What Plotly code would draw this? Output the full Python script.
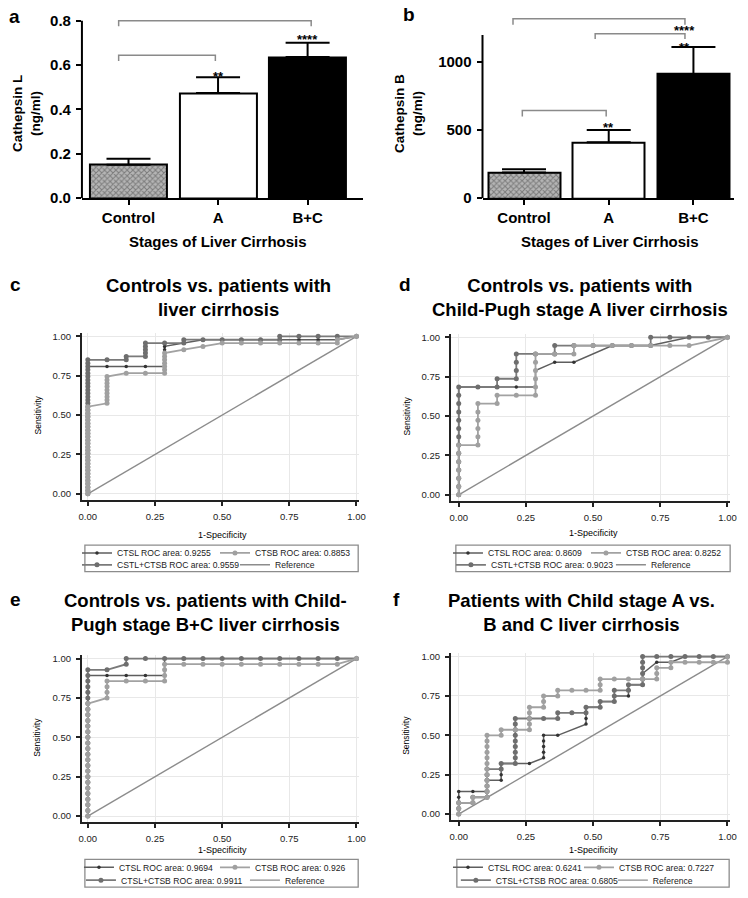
import plotly.graph_objects as go

W, H = 748, 898
FONT = "Liberation Sans, Arial, sans-serif"

# ---------------- panels a / b : bar charts ----------------
GROUPS = ["Control", "A", "B+C"]
CTSL_MEAN = [0.151, 0.474, 0.636]      # Cathepsin L (ng/ml)
CTSL_SEM = [0.027, 0.071, 0.065]
CTSB_MEAN = [188, 411, 913]            # Cathepsin B (ng/ml)
CTSB_SEM = [24, 91, 198]

# ---------------- panels c-f : ROC curves ----------------
# each curve: one list per false-positive count (0..n_neg), holding the
# true-positive counts reached at that false-positive count
C_N_NEG, C_N_POS = 14, 47
C_CTSL = [[0, 1, 2, 3, 4, 5, 6, 7, 8, 9, 10, 11, 12, 13, 14, 15, 16, 17, 18, 19, 20, 21, 22, 23, 24, 25, 26, 27, 28, 29, 30, 31, 32, 33, 34, 35, 36, 37, 38],
          [38], [38], [38], [38, 39, 40, 41, 42, 43, 44], [45], [46], [46], [46], [46], [46], [46], [46], [46], [47]]
C_CTSB = [[0, 1, 2, 3, 4, 5, 6, 7, 8, 9, 10, 11, 12, 13, 14, 15, 16, 17, 18, 19, 20, 21, 22, 23, 24, 25, 26],
          [27, 28, 29, 30, 31, 32, 33, 34, 35], [36], [36], [36, 37, 38, 39, 40, 41, 42], [43], [44], [45], [45], [45],
          [45], [45], [45], [45, 46], [47]]
C_COMBO = [[0, 1, 2, 3, 4, 5, 6, 7, 8, 9, 10, 11, 12, 13, 14, 15, 16, 17, 18, 19, 20, 21, 22, 23, 24, 25, 26, 27, 28, 29, 30, 31, 32, 33, 34, 35, 36, 37, 38, 39, 40],
           [40], [40, 41], [41, 42, 43, 44, 45], [45], [45, 46], [46], [46], [46], [46], [46, 47], [47], [47], [47], [47]]
C_LABELS = ["CTSL ROC area: 0.9255", "CTSB ROC area: 0.8853", "CSTL+CTSB ROC area: 0.9559", "Reference"]

D_N_NEG, D_N_POS = 14, 19
D_CTSL = [[0, 1, 2, 3, 4, 5, 6, 7, 8, 9, 10, 11, 12, 13], [13], [13], [13], [13, 14, 15], [16], [16], [], [18], [18], [18], [],
          [19], [19], [19]]
D_CTSB = [[0, 1, 2, 3, 4, 5, 6], [6, 7, 8, 9, 10, 11], [11, 12], [12], [12, 13, 14, 15, 16, 17], [17], [17, 18], [18], [18],
          [18], [18], [18], [18], [], [19]]
D_COMBO = [[0, 1, 2, 3, 4, 5, 6, 7, 8, 9, 10, 11, 12, 13], [13], [13, 14], [14, 15, 16, 17], [17], [17, 18], [18], [18], [18],
           [18], [18, 19], [19], [19], [19], [19]]
D_LABELS = ["CTSL ROC area: 0.8609", "CTSB ROC area: 0.8252", "CSTL+CTSB ROC area: 0.9023", "Reference"]

E_N_NEG, E_N_POS = 14, 28
E_CTSL = [[0, 1, 2, 3, 4, 5, 6, 7, 8, 9, 10, 11, 12, 13, 14, 15, 16, 17, 18, 19, 20, 21, 22, 23, 24, 25], [25], [25], [25],
          [25, 26, 27, 28], [28], [28], [28], [28], [28], [28], [28], [28], [28], [28]]
E_CTSB = [[0, 1, 2, 3, 4, 5, 6, 7, 8, 9, 10, 11, 12, 13, 14, 15, 16, 17, 18, 19, 20], [21, 22, 23, 24], [24], [24],
          [24, 25, 26, 27], [27], [27], [27], [27], [27], [27], [27], [27], [27], [28]]
E_COMBO = [[0, 1, 2, 3, 4, 5, 6, 7, 8, 9, 10, 11, 12, 13, 14, 15, 16, 17, 18, 19, 20, 21, 22, 23, 24, 25, 26], [26], [27, 28],
           [28], [28], [28], [28], [28], [28], [28], [28], [28], [28], [28], [28]]
E_LABELS = ["CTSL ROC area: 0.9694", "CTSB ROC area: 0.926", "CTSL+CTSB ROC area: 0.9911", "Reference"]

F_N_NEG, F_N_POS = 19, 28
F_CTSL = [[0, 1, 2, 3, 4], [4], [4, 5, 6], [6, 7, 8, 9], [9], [9], [10, 11, 12, 13, 14], [14], [], [16, 17, 18, 19],
          [19, 20], [20, 21], [21, 22, 23], [23, 24, 25], [27], [27], [28], [28], [28], [28]]
F_CTSB = [[0, 1, 2], [2, 3], [3, 4, 5, 6, 7, 8, 9, 10, 11, 12, 13, 14], [14, 15], [15], [15, 16, 17, 18, 19], [19, 20, 21],
          [21, 22], [22], [22], [22, 23, 24], [24], [24], [24], [24, 25, 26], [26, 27], [27], [27], [27], [27, 28]]
F_COMBO = [[0, 1, 2], [2, 3], [3, 4, 5, 6, 7, 8], [8, 9], [9, 10, 11, 12, 13, 14, 15, 16, 17], [17], [17], [17, 18], [18],
           [18, 19], [19, 20], [20, 21, 22], [22, 23], [23, 24, 25, 26, 27, 28], [28], [28], [28], [28], [28], [28]]
F_LABELS = ["CTSL ROC area: 0.6241", "CTSB ROC area: 0.7227", "CTSL+CTSB ROC area: 0.6805", "Reference"]

ROC_TICKS = [0, 0.25, 0.5, 0.75, 1]


def px_x(x):
    return x / W


def px_y(y):
    return 1 - y / H


def roc_xy(cols, n_neg, n_pos):
    xs, ys = [], []
    for fp, col in enumerate(cols):
        for tp in col:
            xs.append(fp / n_neg)
            ys.append(tp / n_pos)
    return xs, ys


fig = go.Figure()
annotations = []
shapes = []


def text(x, y, s, size, bold=False, angle=0, xanchor="center"):
    annotations.append(dict(x=px_x(x), y=px_y(y), xref="paper", yref="paper", text=s, showarrow=False,
                            textangle=angle, xanchor=xanchor, yanchor="middle",
                            font=dict(family=FONT, size=size, color="black",
                                      weight="bold" if bold else "normal")))


# ---------- bar panels ----------
def bar_panel(xa, ya, means, sems, width, ytop, brackets, stars):
    fig.add_trace(go.Bar(
        x=list(range(len(GROUPS))), y=means, width=width,
        marker=dict(color=["#b5b5b5", "white", "black"],
                    line=dict(color="black", width=2),
                    pattern=dict(shape=["x", "", ""], fgcolor="#2e2e2e", bgcolor="#b8b8b8",
                                 size=4, solidity=0.45)),
        error_y=dict(type="data", symmetric=False, array=sems, arrayminus=[0] * len(sems),
                     color="black", thickness=2, width=22),
        xaxis=xa, yaxis=ya, showlegend=False, hoverinfo="skip"))
    for x0, x1, y, drop in brackets:
        fig.add_trace(go.Scatter(x=[x0, x0, x1, x1], y=[y - drop, y, y, y - drop], mode="lines",
                                 line=dict(color="#8a8a8a", width=1.5), xaxis=xa, yaxis=ya,
                                 showlegend=False, hoverinfo="skip"))
    for x, y, s in stars:
        annotations.append(dict(x=x, y=y, xref=xa, yref=ya, text=s, showarrow=False, yshift=-3,
                                font=dict(family=FONT, size=13, color="black", weight="bold")))
    # y axis line only up to the top tick
    shapes.append(dict(type="line", xref=xa + " domain", yref=ya, x0=0, x1=0, y0=0, y1=ytop,
                       line=dict(color="black", width=2)))


bar_panel("x", "y", CTSL_MEAN, CTSL_SEM, 0.86, 0.8,
          [(-0.11, 2.04, 0.800, 0.025), (-0.11, 0.97, 0.644, 0.026)],
          [(1, 0.56, "**"), (2, 0.73, "****")])
bar_panel("x2", "y2", CTSB_MEAN, CTSB_SEM, 0.85, 1200,
          [(-0.13, 1.9, 1319, 44), (0.84, 1.9, 1210, 40), (-0.02, 0.97, 645, 44)],
          [(1.9, 1252, "****"), (1.9, 1130, "**"), (1.0, 543, "**")])

bar_x = dict(tickvals=[0, 1, 2], ticktext=GROUPS, showline=True, linecolor="black", linewidth=2,
             ticks="outside", ticklen=5, tickwidth=2, tickcolor="black", showgrid=False, zeroline=False,
             tickfont=dict(family=FONT, size=15, color="black", weight="bold"))
bar_y = dict(showline=False, ticks="outside", ticklen=5, tickwidth=2, tickcolor="black", showgrid=False,
             zeroline=False, ticklabelstandoff=2,
             tickfont=dict(family=FONT, size=15, color="black", weight="bold"))

layout_axes = {
    "xaxis": dict(bar_x, domain=[px_x(80), px_x(365)], range=[-0.52, 2.62], anchor="y"),
    "yaxis": dict(bar_y, domain=[px_y(196), px_y(12.6)], range=[0, 0.815], anchor="x",
                  tickvals=[0, 0.2, 0.4, 0.6, 0.8], tickformat=".1f"),
    "xaxis2": dict(bar_x, domain=[px_x(486), px_x(741)], range=[-0.49, 2.48], anchor="y2"),
    "yaxis2": dict(bar_y, domain=[px_y(196), px_y(11.8)], range=[0, 1335], anchor="x2",
                   tickvals=[0, 500, 1000]),
}

text(24, 110, "Cathepsin L<br>(ng/ml)", 13.5, bold=True, angle=-90)
text(411, 110, "Cathepsin B<br>(ng/ml)", 13.5, bold=True, angle=-90)
text(218, 240, "Stages of Liver Cirrhosis", 15, bold=True)
text(615, 240, "Stages of Liver Cirrhosis", 15, bold=True)

# ---------- ROC panels ----------
roc_panels = [
    dict(n=3, cols=(C_CTSL, C_CTSB, C_COMBO), nn=C_N_NEG, np_=C_N_POS, labels=C_LABELS,
         xd=(80, 361), yd=(333, 502), xr=-0.022, lg=(75, 556, 93, 75, 568, 113), box=(83, 548, 360, 575),
         title=(218, 297, "Controls vs. patients with<br>liver cirrhosis"), sens=(35, 416), spec=(222, 538)),
    dict(n=4, cols=(D_CTSL, D_CTSB, D_COMBO), nn=D_N_NEG, np_=D_N_POS, labels=D_LABELS,
         xd=(454, 737), yd=(334, 503), xr=-0.029, lg=(451, 556, 93, 454, 568, 115), box=(459, 548, 737, 575),
         title=(585, 297, "Controls vs. patients with<br>Child-Pugh stage A liver cirrhosis"), sens=(409, 417),
         spec=(598, 536)),
    dict(n=5, cols=(E_CTSL, E_CTSB, E_COMBO), nn=E_N_NEG, np_=E_N_POS, labels=E_LABELS,
         xd=(80, 361), yd=(660, 829), xr=-0.022, lg=(77, 875, 91, 79, 888, 119), box=(83, 867, 360, 895),
         title=(205, 616, "Controls vs. patients with Child-<br>Pugh stage B+C liver cirrhosis"), sens=(35, 743),
         spec=(222, 857)),
    dict(n=6, cols=(F_CTSL, F_CTSB, F_COMBO), nn=F_N_NEG, np_=F_N_POS, labels=F_LABELS,
         xd=(454, 737), yd=(658, 827), xr=-0.029, lg=(451, 875, 86, 459, 888, 112), box=(460, 867, 736, 895),
         title=(586, 616, "Patients with Child stage A vs.<br>B and C liver cirrhosis"), sens=(409, 741),
         spec=(598, 857)),
]

roc_axis = dict(showline=True, linecolor="#222", linewidth=2, ticks="outside", ticklen=4, tickwidth=1.5,
                tickcolor="#222", showgrid=True, gridcolor="#e8e8e8", gridwidth=1, zeroline=False,
                tickvals=ROC_TICKS, tickformat=".2f", ticklabelstandoff=3,
                tickfont=dict(family=FONT, size=9.5, color="#222"))

legend_defs = {}
for i, p in enumerate(roc_panels):
    xa, ya = "x%d" % p["n"], "y%d" % p["n"]
    lg1, lg2 = "legend%d" % (2 * i + 1), "legend%d" % (2 * i + 2)
    lg1 = "legend" if lg1 == "legend1" else lg1
    ctsl, ctsb, combo = p["cols"]
    lab = p["labels"]

    fig.add_trace(go.Scatter(x=[0, 1], y=[0, 1], mode="lines", line=dict(color="#8c8c8c", width=1.4),
                             name=lab[3], legend=lg2, legendrank=2, xaxis=xa, yaxis=ya, hoverinfo="skip"))
    x, y = roc_xy(ctsl, p["nn"], p["np_"])
    fig.add_trace(go.Scatter(x=x, y=y, mode="lines+markers", name=lab[0], legend=lg1, legendrank=1,
                             legendwidth=p["lg"][2],
                             line=dict(color="#5e5e5e", width=1.5),
                             marker=dict(color="#333333", size=3.5, symbol="circle"),
                             xaxis=xa, yaxis=ya, hoverinfo="skip"))
    x, y = roc_xy(combo, p["nn"], p["np_"])
    fig.add_trace(go.Scatter(x=x, y=y, mode="lines+markers", name=lab[2], legend=lg2, legendrank=1,
                             legendwidth=p["lg"][5],
                             line=dict(color="#7a7a7a", width=1.8),
                             marker=dict(color="#6e6e6e", size=5, symbol="circle"),
                             xaxis=xa, yaxis=ya, hoverinfo="skip"))
    x, y = roc_xy(ctsb, p["nn"], p["np_"])
    fig.add_trace(go.Scatter(x=x, y=y, mode="lines+markers", name=lab[1], legend=lg1, legendrank=2,
                             line=dict(color="#a2a2a2", width=1.8),
                             marker=dict(color="#a0a0a0", size=5, symbol="circle"),
                             xaxis=xa, yaxis=ya, hoverinfo="skip"))

    layout_axes["xaxis%d" % p["n"]] = dict(roc_axis, domain=[px_x(p["xd"][0]), px_x(p["xd"][1])],
                                           range=[p["xr"], 1.01], anchor=ya)
    layout_axes["yaxis%d" % p["n"]] = dict(roc_axis, domain=[px_y(p["yd"][1]), px_y(p["yd"][0])],
                                           range=[-0.0375, 1.02], anchor=xa)

    leg_common = dict(orientation="h", xanchor="left", yanchor="middle", bgcolor="rgba(0,0,0,0)",
                      borderwidth=0, traceorder="normal", itemclick=False, itemdoubleclick=False,
                      font=dict(family=FONT, size=8.6, color="#222"))
    legend_defs[lg1] = dict(leg_common, x=px_x(p["lg"][0]), y=px_y(p["lg"][1]))
    legend_defs[lg2] = dict(leg_common, x=px_x(p["lg"][3]), y=px_y(p["lg"][4]))

    bx0, by0, bx1, by1 = p["box"]
    shapes.append(dict(type="rect", xref="paper", yref="paper", x0=px_x(bx0), x1=px_x(bx1),
                       y0=px_y(by1), y1=px_y(by0), line=dict(color="#8c8c8c", width=1.3),
                       fillcolor="white", layer="below"))

    tx, ty, ttl = p["title"]
    text(tx, ty, ttl, 18.5, bold=True)
    text(p["sens"][0], p["sens"][1], "Sensitivity", 8.5, angle=-90)
    text(p["spec"][0], p["spec"][1], "1-Specificity", 9)

# panel letters
for letter, lx, ly in [("a", 12, 12), ("b", 411, 10), ("c", 13, 284), ("d", 407, 284),
                       ("e", 13, 603), ("f", 399, 603)]:
    text(lx, ly, letter, 19, bold=True)

fig.update_layout(
    width=W, height=H, margin=dict(l=0, r=0, t=0, b=0),
    paper_bgcolor="white", plot_bgcolor="white",
    showlegend=True, bargap=0,
    annotations=annotations, shapes=shapes,
    font=dict(family=FONT, color="black"),
    **layout_axes, **legend_defs,
)

# page margin off so the figure sits at the window's top-left corner
fig.write_html("out.html", config={"displayModeBar": False},
               post_script="document.body.style.margin='0';document.body.style.overflow='hidden';")
